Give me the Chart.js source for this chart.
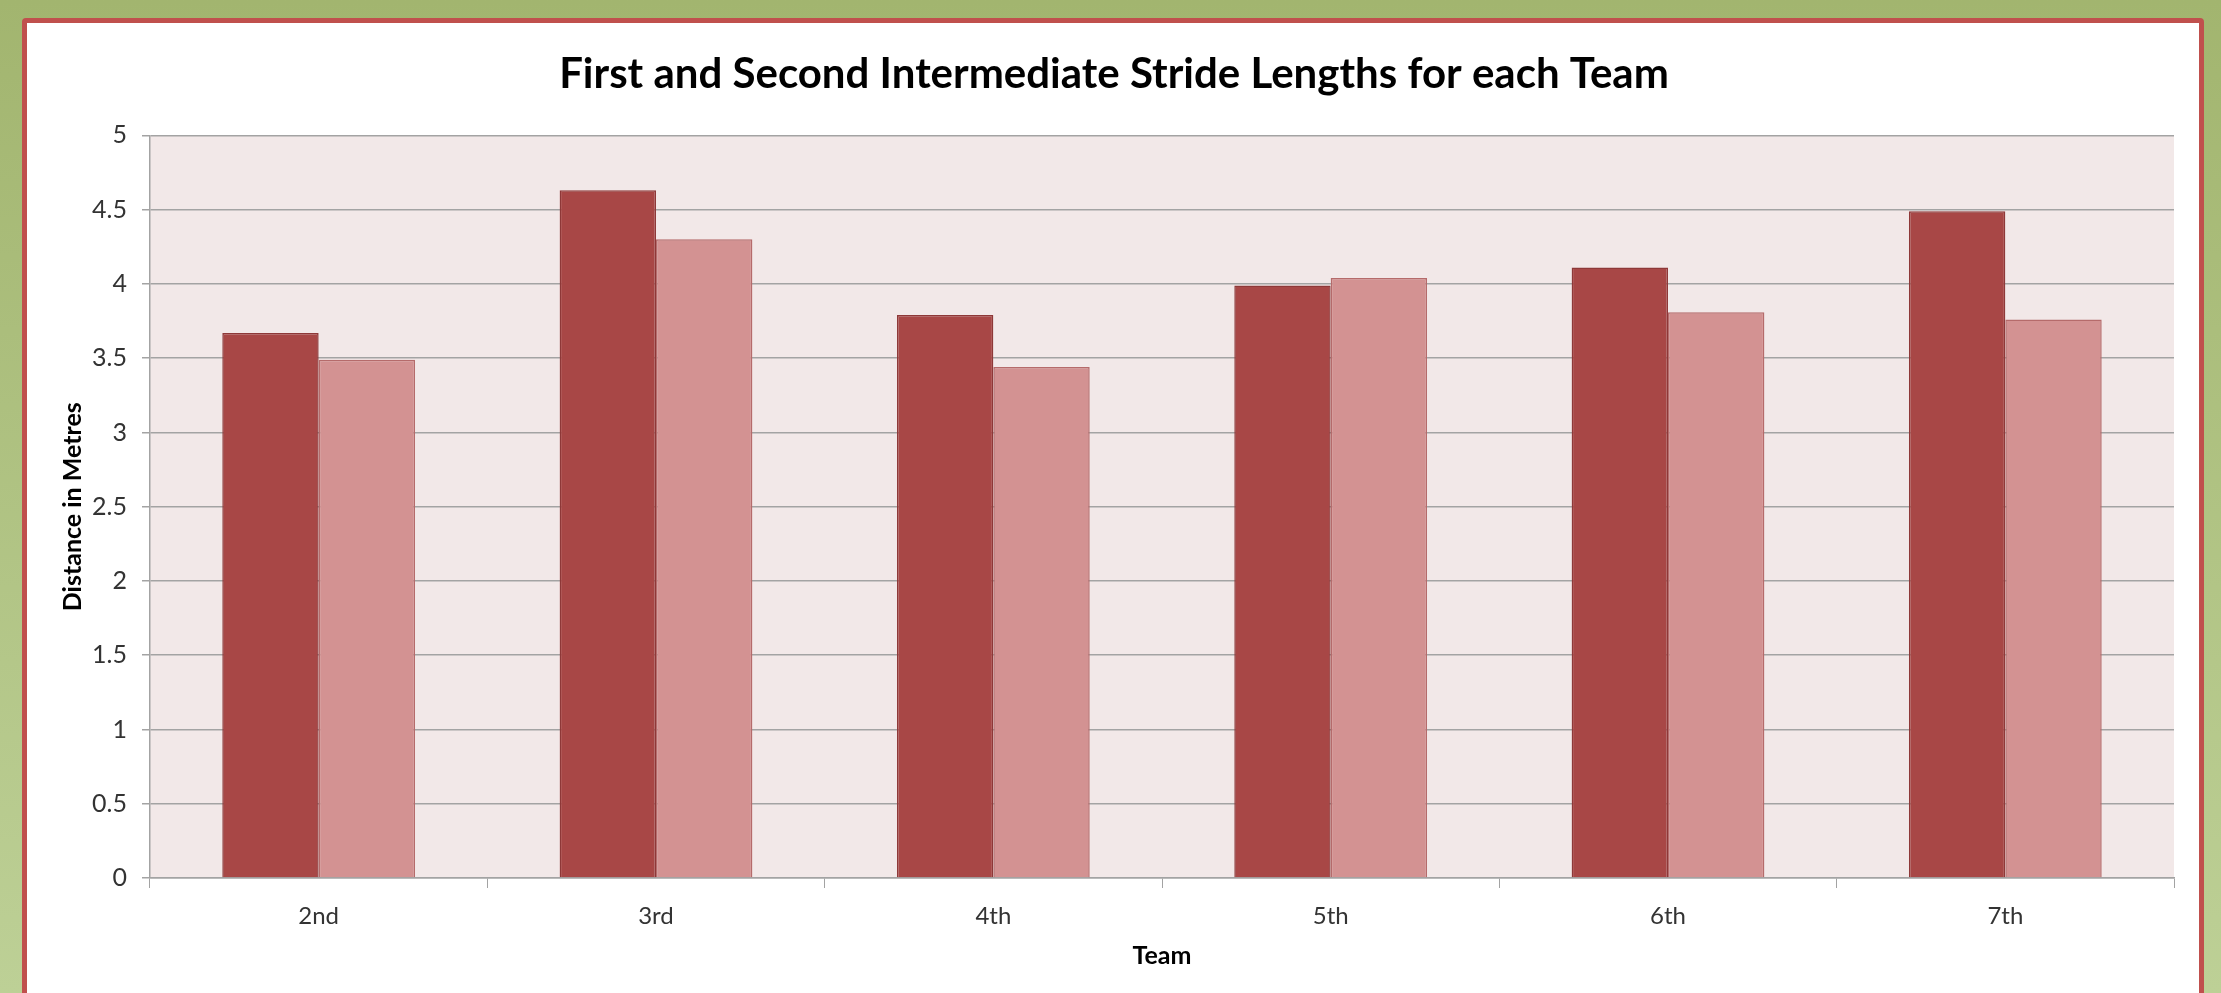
<!DOCTYPE html>
<html>
<head>
<meta charset="utf-8">
<script src="https://cdn.jsdelivr.net/npm/chart.js@4"></script>
<style>
  html, body { margin: 0; padding: 0; }
  body {
    width: 2221px; height: 993px; overflow: hidden; position: relative;
    background: linear-gradient(to bottom, #a2b56f, #bdd096);
  }
  .panel {
    position: absolute; left: 22px; top: 18px;
    width: 2172px; height: 1100px;
    background: #fff; border: 5px solid #c0504d; border-radius: 4px;
  }
  #strideChart { position: absolute; left: 0; top: 0; }
</style>
</head>
<body>
<div class="panel"></div>
<canvas id="strideChart" width="2221" height="993"></canvas>
<script>
// donnees
const teams = ['2nd', '3rd', '4th', '5th', '6th', '7th'];
const firstStride = [3.67, 4.63, 3.79, 3.99, 4.11, 4.49];
const secondStride = [3.49, 4.30, 3.44, 4.04, 3.81, 3.76];
const yTicks = [0, 0.5, 1, 1.5, 2, 2.5, 3, 3.5, 4, 4.5, 5];

const gridGrey = '#a3a3a3';

// fond rose de la zone de trace
const plotBg = {
  id: 'plotBg',
  beforeDraw(chart) {
    const {ctx, chartArea: a} = chart;
    ctx.save();
    ctx.fillStyle = '#f2e8e8';
    ctx.fillRect(a.left, a.top, a.right - a.left, a.bottom - a.top);
    ctx.restore();
  }
};

new Chart('strideChart', {
  type: 'bar',
  data: {
    labels: teams,
    datasets: [{
      label: 'First Intermediate Stride',
      data: firstStride,
      backgroundColor: '#a84746',
      borderColor: '#8e3838',
      borderWidth: 1.5
    }, {
      label: 'Second Intermediate Stride',
      data: secondStride,
      backgroundColor: '#d39292',
      borderColor: '#b56b6b',
      borderWidth: 1.5
    }]
  },
  options: {
    responsive: false,
    animation: false,
    layout: { padding: { left: 54, right: 47, top: 0, bottom: 0 } },
    datasets: { bar: { categoryPercentage: 2 / 3.5, barPercentage: 1 } },
    plugins: {
      legend: { display: false },
      tooltip: { enabled: false },
      title: {
        display: true,
        text: 'First and Second Intermediate Stride Lengths for each Team',
        color: '#000',
        font: { family: 'Lato', size: 42, weight: 'bold', lineHeight: 1.2 },
        padding: { top: 49, bottom: 36 }
      }
    },
    scales: {
      x: {
        afterFit: s => { s.height = 115; },
        grid: { offset: true, drawOnChartArea: false, drawTicks: true, tickLength: 10, color: gridGrey },
        border: { color: gridGrey, width: 1.5 },
        ticks: { color: '#333', padding: 14, font: { family: 'Lato', size: 24 } },
        title: {
          display: true, text: 'Team', color: '#000',
          font: { family: 'Lato', size: 25, weight: 'bold', lineHeight: 1.2 },
          padding: { top: 4, bottom: 22 }
        }
      },
      y: {
        min: 0, max: 5,
        afterFit: s => { s.width = 96; },
        afterBuildTicks: s => { s.ticks = yTicks.map(v => ({ value: v })); },
        grid: { color: gridGrey, lineWidth: 1.5, tickLength: 8 },
        border: { color: gridGrey, width: 1.5 },
        ticks: {
          color: '#333', padding: 15, font: { family: 'Lato', size: 25 },
          callback: v => String(v)
        },
        title: {
          display: true, text: 'Distance in Metres', color: '#000',
          font: { family: 'Lato', size: 25, weight: 'bold', lineHeight: 1.2 },
          padding: { top: 4, bottom: 4 }
        }
      }
    }
  },
  plugins: [plotBg]
});
</script>
</body>
</html>
